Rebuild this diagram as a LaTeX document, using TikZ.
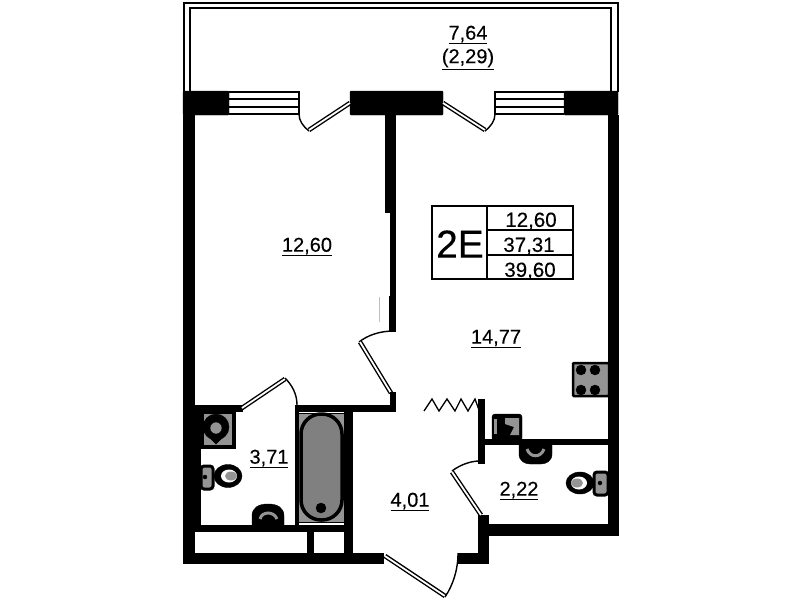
\documentclass[tikz,border=0pt]{standalone}
\usepackage{fontspec}
\setmainfont[FakeBold=0.25]{Liberation Sans}
\tikzset{
	wall/.style={fill=black},
	leaf/.style={double, double distance=1.8pt, line width=1.4pt},
	swing/.style={line width=1.4pt},
	fixture/.style={fill=black!42},
	area/.style={font=\fontsize{20}{20}\selectfont, inner sep=0pt},
	cell/.style={font=\fontsize{20.5}{20.5}\selectfont, inner sep=0pt},
}
\begin{document}
\begin{tikzpicture}[x=1pt, y=-1pt]
		%%%%% START %%%%%
		\useasboundingbox (0, 0) rectangle (801, 600);
		
		% balcony
		\draw[line width=2pt] (183.5, 92) -- (183.5, 2.5) -- (617.5, 2.5) -- (617.5, 92);
		\draw[line width=2pt] (190, 92) -- (190, 7.5) -- (611, 7.5) -- (611, 92);
		
		% facade blocks
		\draw[wall, rounded corners=1pt] (183, 91) rectangle (229, 115);
		\draw[wall, rounded corners=1pt] (350, 91) rectangle (443, 115);
		\draw[wall, rounded corners=1pt] (564, 91) rectangle (618, 115);
		
		% windows
		\draw[line width=1.6pt] (229, 92) -- (299, 92) -- (299, 114) -- (229, 114);
		\draw[line width=2.6pt] (229, 99) -- (299, 99);
		\draw[line width=2.6pt] (229, 107) -- (299, 107);
		\draw[line width=1.6pt] (564, 92) -- (495, 92) -- (495, 114) -- (564, 114);
		\draw[line width=2.6pt] (495, 99) -- (564, 99);
		\draw[line width=2.6pt] (495, 107) -- (564, 107);
		
		% balcony doors
		\draw[leaf] (350, 103) -- (309, 130);
		\draw[swing] (309, 131) .. controls (303, 126) and (299, 121) .. (299, 114);
		\draw[leaf] (443, 103) -- (485, 130);
		\draw[swing] (485, 131) .. controls (491, 126) and (495, 121) .. (495, 114);
		
		% outer walls
		\draw[wall] (183, 115) rectangle (194, 563);
		\draw[wall] (608, 115) rectangle (618, 535);
		\draw[wall] (478, 524) rectangle (618, 535);
		\draw[wall] (478, 515) rectangle (488, 563);
		\draw[wall] (458, 553) rectangle (488, 563);
		\draw[wall] (183, 553) rectangle (383, 563);
		
		% partition of the bedroom
		\draw[wall] (385, 115) rectangle (395, 212);
		\draw[wall] (390, 212) rectangle (395, 296);
		\draw[wall] (389, 296) rectangle (395, 331);
		\draw[black!25, line width=0.5pt] (379, 297) -- (379, 322);
		\draw[swing] (394, 331) .. controls (380, 331) and (368, 335) .. (359, 342);
		\draw[leaf] (360, 342) -- (391, 393);
		\draw[wall] (390, 392) rectangle (395, 410);
		
		% bathroom walls
		\draw[wall] (194, 405) rectangle (242, 411);
		\draw[wall] (297, 405) rectangle (395, 411);
		\draw[wall] (194, 411) rectangle (200, 530);
		\draw[wall] (295, 405) rectangle (298, 530);
		\draw[wall] (344, 405) rectangle (352, 553);
		\draw[wall] (194, 525) rectangle (344, 531);
		\draw[wall] (307, 530) rectangle (313, 553);
		\draw[leaf] (242, 408) -- (285, 379);
		\draw[swing] (285, 378) .. controls (292, 385) and (297, 394) .. (297, 405);
		
		% hall and second bathroom
		\draw[wall] (478, 399) rectangle (484, 463);
		\draw[wall] (484, 439) rectangle (608, 444);
		\draw[line width=1.3pt] (424, 411) -- (432, 399) -- (439, 411) -- (447, 399) -- (455, 411) -- (461, 399) -- (468, 411) -- (475, 399) -- (479, 410);
		\draw[swing] (480, 461) .. controls (470, 461) and (460, 465) .. (452, 471);
		\draw[leaf] (452, 472) -- (481, 515);
		\draw[leaf] (385, 556) -- (445, 596);
		\draw[swing] (445, 597) .. controls (453, 585) and (458, 570) .. (458, 553);
		
		% washing machine
		\draw[wall] (194, 411) rectangle (235, 448);
		\draw[fixture] (203, 413) rectangle (232, 445);
		\draw[wall] (216, 427) circle (13);
		\draw[wall] (207, 435) -- (216, 444) -- (225, 435) -- cycle;
		\draw[fixture] (216, 428) circle (6);
		
		% toilet
		\draw[fixture, line width=3pt, rounded corners=3pt] (201, 466) rectangle (213, 489);
		\draw[wall] (205, 477) circle (2);
		\draw[wall] (228, 476) ellipse (14 and 11.5);
		\draw[fill=white, draw=none] (229, 476) ellipse (8 and 6.5);
		\draw[fixture, draw=none] (231, 476) ellipse (6 and 4.5);
		
		% sink
		\draw[wall] (252, 526) -- (252, 516) .. controls (252, 508) and (258, 504) .. (268, 504) .. controls (278, 504) and (284, 508) .. (284, 516) -- (284, 526) -- cycle;
		\draw[black!42, line width=3pt] (260, 519) .. controls (262, 511) and (274, 511) .. (277, 519);
		
		% bath
		\draw[fixture] (298, 413) rectangle (344, 522);
		\draw[fill=black!50, line width=3.5pt, rounded corners=20pt] (301, 414) rectangle (342, 520);
		\draw[wall] (321, 508) circle (5);
		
		% second bathroom fixtures
		\draw[wall, rounded corners=3pt] (492, 414) rectangle (522, 441);
		\draw[fixture, draw=none] (494, 419) rectangle (497, 434);
		\draw[fixture, draw=none] (505, 418) -- (519, 418) -- (519, 435) -- (510, 435) -- (514, 427) -- (505, 424) -- cycle;
		\draw[wall] (519, 443) -- (519, 454) .. controls (519, 461) and (525, 464) .. (530, 464) -- (541, 464) .. controls (546, 464) and (552, 461) .. (552, 454) -- (552, 443) -- cycle;
		\draw[black!42, line width=3pt] (527, 449) .. controls (530, 458) and (541, 458) .. (544, 449);
		\draw[fixture, line width=3pt, rounded corners=3pt] (594, 472) rectangle (608, 495);
		\draw[wall] (600, 483) circle (2);
		\draw[wall] (580, 483) ellipse (14 and 11);
		\draw[fill=white, draw=none] (579, 483) ellipse (8 and 6.5);
		\draw[fixture, draw=none] (577, 483) ellipse (6 and 4.5);
		
		% stove
		\draw[fixture, line width=2.5pt, rounded corners=1pt] (573, 363) rectangle (609, 396);
		\draw[wall] (581, 370) circle (5);
		\draw[wall] (595, 370) circle (5);
		\draw[wall] (581, 390) circle (5);
		\draw[wall] (595, 390) circle (5);
		
		% table of areas
		\draw[line width=1.6pt] (432, 206) rectangle (573, 279);
		\draw[line width=1.6pt] (487, 206) -- (487, 279);
		\draw[line width=1.6pt] (487, 230) -- (573, 230);
		\draw[line width=1.6pt] (487, 255) -- (573, 255);
		\node[font=\fontsize{39}{39}\selectfont, inner sep=0pt] (planname) at (460, 244) {2E};
		\node[cell] (cellone) at (531, 221) {12,60};
		\node[cell] (celltwo) at (529, 246) {37,31};
		\node[cell] (cellthree) at (530, 271) {39,60};
		
		% areas
		\node[area] (balcony) at (468, 35) {\underline{7,64}};
		\node[area] (balconycut) at (468, 59) {\underline{(2,29)}};
		\node[area] (bedroom) at (307, 247) {\underline{12,60}};
		\node[area] (living) at (496, 339) {\underline{14,77}};
		\node[area] (bathone) at (269, 459) {\underline{3,71}};
		\node[area] (hall) at (410, 502) {\underline{4,01}};
		\node[area] (bathtwo) at (519, 491) {\underline{2,22}};
		
		%%%%% END %%%%%
	\end{tikzpicture}
\end{document}
